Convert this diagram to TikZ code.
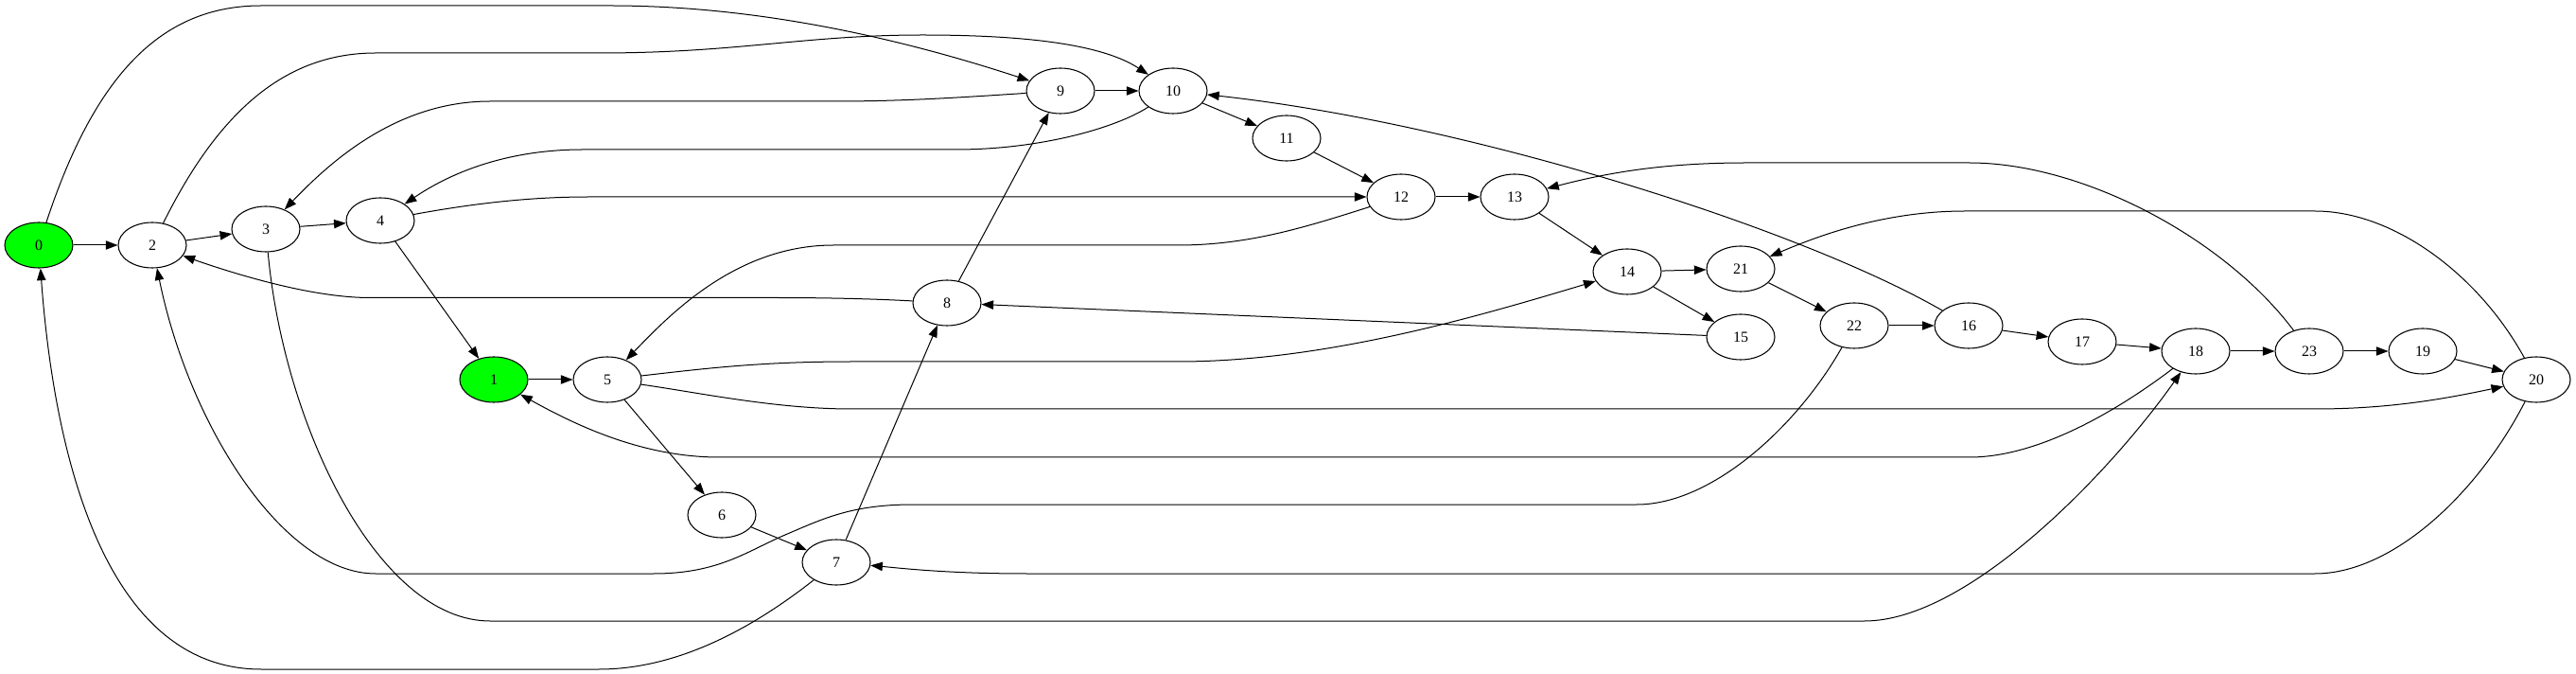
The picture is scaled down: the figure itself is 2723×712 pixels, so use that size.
\documentclass[tikz,border=0pt]{standalone}
\usepackage{fontspec}
\setmainfont{Liberation Serif}
\usepackage{xcolor}
\usepackage{tikz}
\usetikzlibrary{arrows.meta,shapes.geometric}
\definecolor{seedgreen}{RGB}{0,255,0}

\begin{document}
\begin{tikzpicture}[
  x=0.75pt, y=-0.75pt,
  font=\fontsize{12}{14}\selectfont,
  vert/.style={draw, ellipse, line width=0.8pt, minimum width=54pt, minimum height=36pt, inner sep=0pt, fill=white},
  gvert/.style={vert, fill=seedgreen},
  arr/.style={-{Triangle[length=9.5pt, width=7pt]}, line width=0.75pt, black}
]
\useasboundingbox (0,0) rectangle (2723,712);
% ---------------- vertices, left part
\node[gvert] (n0) at (41,259) {0};
\node[vert] (n2) at (161,259) {2};
\node[vert] (n3) at (281,242) {3};
\node[vert] (n4) at (402,233) {4};
\node[gvert] (n1) at (522,401) {1};
\node[vert] (n5) at (642,401) {5};
\node[vert] (n6) at (763,544) {6};
\node[vert] (n7) at (884,594) {7};
\node[vert] (n8) at (1001,320) {8};
\node[vert] (n9) at (1121,96) {9};
\node[vert] (n10) at (1240,96) {10};
\node[vert] (n11) at (1360,146) {11};
\node[vert] (n12) at (1481,208) {12};
% ---------------- vertices, right part
\node[vert] (n13) at (1601,208) {13};
\node[vert] (n14) at (1720,287) {14};
\node[vert] (n21) at (1840,284) {21};
\node[vert] (n15) at (1840,356) {15};
\node[vert] (n22) at (1960,344) {22};
\node[vert] (n16) at (2081,344) {16};
\node[vert] (n17) at (2201,361) {17};
\node[vert] (n18) at (2321,371) {18};
\node[vert] (n23) at (2441,371) {23};
\node[vert] (n19) at (2561,371) {19};
\node[vert] (n20) at (2681,401) {20};
% ---------------- short edges
\draw[arr] (n0) -- (n2);
\draw[arr] (n2) -- (n3);
\draw[arr] (n3) -- (n4);
\draw[arr] (n4) -- (n1);
\draw[arr] (n1) -- (n5);
\draw[arr] (n5) -- (n6);
\draw[arr] (n6) -- (n7);
\draw[arr] (n7) -- (n8);
\draw[arr] (n8) -- (n9);
\draw[arr] (n9) -- (n10);
\draw[arr] (n10) -- (n11);
\draw[arr] (n11) -- (n12);
\draw[arr] (n12) -- (n13);
\draw[arr] (n13) -- (n14);
\draw[arr] (n14) -- (n21);
\draw[arr] (n14) -- (n15);
\draw[arr] (n15) -- (n8);
\draw[arr] (n21) -- (n22);
\draw[arr] (n22) -- (n16);
\draw[arr] (n16) -- (n17);
\draw[arr] (n17) -- (n18);
\draw[arr] (n18) -- (n23);
\draw[arr] (n23) -- (n19);
\draw[arr] (n19) -- (n20);
% ---------------- long edges above
\draw[arr] (n0) .. controls (100,80) and (170,6) .. (276,6) -- (645,6) .. controls (800,6) and (950,40) .. (n9);
\draw[arr] (n2) .. controls (230,120) and (300,56) .. (397,56) -- (633,56) .. controls (780,56) and (850,37) .. (975,37) .. controls (1100,37) and (1170,50) .. (n10);
\draw[arr] (n9) .. controls (1000,104) and (950,107) .. (880,107) -- (518,107) .. controls (420,107) and (350,170) .. (n3);
\draw[arr] (n10) .. controls (1180,135) and (1100,158) .. (1010,158) -- (616,158) .. controls (540,158) and (480,180) .. (n4);
\draw[arr] (n4) .. controls (500,215) and (560,208) .. (622,208) -- (n12);
\draw[arr] (n12) .. controls (1380,240) and (1320,259) .. (1245,259) -- (881,259) .. controls (780,259) and (710,330) .. (n5);
\draw[arr] (n8) .. controls (930,316) and (880,314.5) .. (820,314.5) -- (391,314.5) .. controls (330,314.5) and (250,290) .. (n2);
\draw[arr] (n16) .. controls (1900,240) and (1550,130) .. (n10);
\draw[arr] (n23) .. controls (2350,250) and (2200,172) .. (2082,172) -- (1845,172) .. controls (1750,172) and (1690,185) .. (n13);
\draw[arr] (n20) .. controls (2620,290) and (2530,223) .. (2447,223) -- (2077,223) .. controls (1990,223) and (1920,250) .. (n21);
% ---------------- long edges below
\draw[arr] (n5) .. controls (740,390) and (800,382) .. (900,382) -- (1245,382) .. controls (1400,382) and (1560,335) .. (n14);
\draw[arr] (n5) .. controls (740,415) and (820,432) .. (900,432) -- (2447,432) .. controls (2530,432) and (2590,420) .. (n20);
\draw[arr] (n18) .. controls (2230,440) and (2150,483) .. (2082,483) -- (760,483) .. controls (680,483) and (610,450) .. (n1);
\draw[arr] (n22) .. controls (1900,450) and (1810,533) .. (1730,533) -- (965,533) .. controls (900,533) and (870,548) .. (830,565) .. controls (790,582) and (760,606) .. (691,606) -- (397,606) .. controls (300,606) and (200,450) .. (n2);
\draw[arr] (n20) .. controls (2620,520) and (2530,606) .. (2447,606) -- (1086,606) .. controls (1000,606) and (950,600) .. (n7);
\draw[arr] (n3) .. controls (300,450) and (400,656) .. (518,656) -- (1971,656) .. controls (2080,656) and (2230,500) .. (n18);
\draw[arr] (n7) .. controls (800,660) and (720,707) .. (633,707) -- (276,707) .. controls (100,707) and (55,450) .. (n0);
\end{tikzpicture}
\end{document}
